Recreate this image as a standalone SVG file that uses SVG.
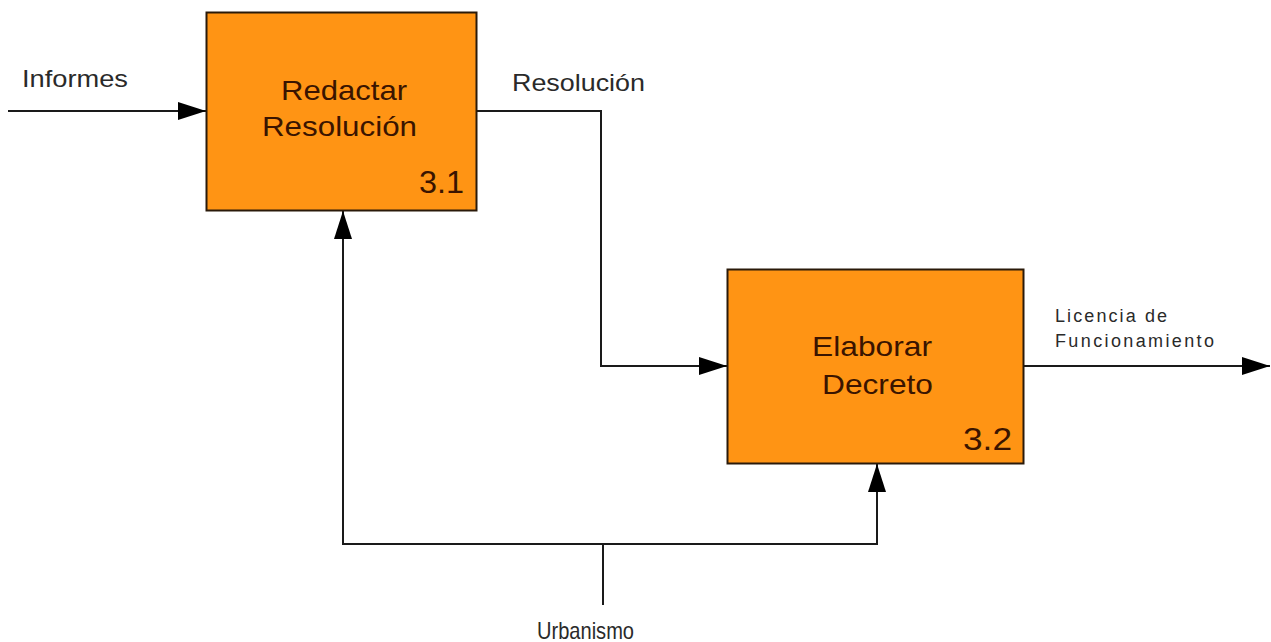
<svg xmlns="http://www.w3.org/2000/svg" width="1271" height="642" viewBox="0 0 1271 642">
<style>
.box{fill:#ff9414;stroke:#2a1a0a;stroke-width:2}
.t{font-family:"Liberation Sans",Arial,sans-serif;fill:#3a1400}
.lbl{font-family:"Liberation Sans",Arial,sans-serif;fill:#2a2a2a}
.c{fill:none;stroke:#1a1a1a;stroke-width:2}
</style>
<defs>
<marker id="ah" markerUnits="userSpaceOnUse" markerWidth="30" markerHeight="20" refX="28" refY="10" orient="auto">
<path d="M0,1 L28,10 L0,19 Z" fill="#000"/>
</marker>
</defs>
<rect width="1271" height="642" fill="#fff"/>
<g id="connectors">
<path class="c" d="M8,111 H206" marker-end="url(#ah)"/>
<path class="c" d="M477,111 H601 V366 H727" marker-end="url(#ah)"/>
<path class="c" d="M1024,366 H1270" marker-end="url(#ah)"/>
<path class="c" d="M603,605 V544"/>
<path class="c" d="M603,544 H343 V211" marker-end="url(#ah)"/>
<path class="c" d="M603,544 H877 V464" marker-end="url(#ah)"/>
</g>
<g id="labels">
<text class="lbl" x="22" y="87" font-size="24" textLength="106" lengthAdjust="spacingAndGlyphs">Informes</text>
<text class="lbl" x="512" y="91" font-size="24" textLength="133" lengthAdjust="spacingAndGlyphs">Resolución</text>
<text class="lbl" x="1055" y="322" font-size="18" textLength="112" lengthAdjust="spacing">Licencia de</text>
<text class="lbl" x="1055" y="347" font-size="18" textLength="159" lengthAdjust="spacing">Funcionamiento</text>
<text class="lbl" x="537" y="639" font-size="24" textLength="97" lengthAdjust="spacingAndGlyphs">Urbanismo</text>
</g>
<g id="node-3-1">
<rect class="box" x="206.5" y="12.5" width="270" height="198"/>
<text class="t" x="281" y="100" font-size="28" textLength="126" lengthAdjust="spacingAndGlyphs">Redactar</text>
<text class="t" x="262" y="136" font-size="28" textLength="155" lengthAdjust="spacingAndGlyphs">Resolución</text>
<text class="t" x="419" y="193" font-size="31" textLength="45" lengthAdjust="spacingAndGlyphs">3.1</text>
</g>
<g id="node-3-2">
<rect class="box" x="727.5" y="269.5" width="296" height="194"/>
<text class="t" x="812" y="356" font-size="28" textLength="120" lengthAdjust="spacingAndGlyphs">Elaborar</text>
<text class="t" x="822" y="394" font-size="28" textLength="111" lengthAdjust="spacingAndGlyphs">Decreto</text>
<text class="t" x="963" y="450" font-size="31" textLength="49" lengthAdjust="spacingAndGlyphs">3.2</text>
</g>
</svg>
